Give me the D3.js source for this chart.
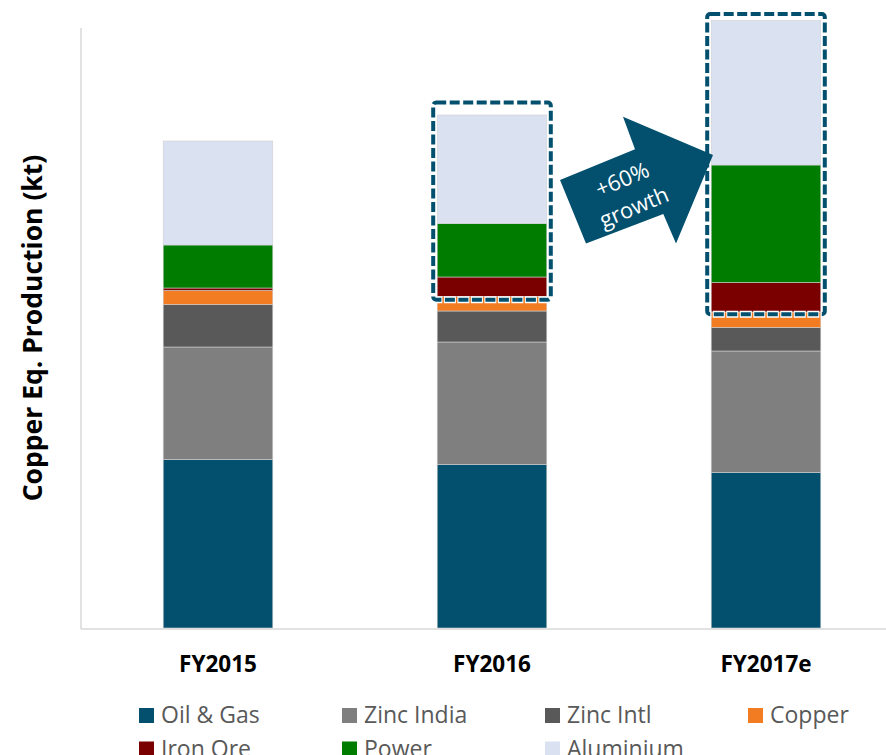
<!DOCTYPE html>
<html>
<head>
<meta charset="utf-8">
<script src="https://cdn.jsdelivr.net/npm/d3@7"></script>
<style>
  body { margin: 0; background: #fff; overflow: hidden; }
  svg { display: block; font-family: "Open Sans", sans-serif; }
</style>
</head>
<body>
<div id="main"></div>
<script>
"use strict";

// chart data (kt)
var categories = ["FY2015", "FY2016", "FY2017e"];
var seriesNames = ["Oil & Gas", "Zinc India", "Zinc Intl", "Copper", "Iron Ore", "Power", "Aluminium"];
var seriesColors = ["#02506e", "#7f7f7f", "#595959", "#f27c21", "#7a0000", "#007c00", "#dae1f1"];
var oilGas = [337, 327, 311];
var zincIndia = [225, 245, 243];
var zincIntl = [85, 62, 47];
var copper = [28, 29, 31];
var ironOre = [5, 39, 59];
var power = [86, 107, 235];
var aluminium = [208, 217, 289];
var growthLabel = ["+60%", "growth"];

var W = 886, H = 755;
var svg = d3.select("#main").append("svg").attr("width", W).attr("height", H);

var table = categories.map(function(c, i) {
  return {
    cat: c,
    "Oil & Gas": oilGas[i],
    "Zinc India": zincIndia[i],
    "Zinc Intl": zincIntl[i],
    "Copper": copper[i],
    "Iron Ore": ironOre[i],
    "Power": power[i],
    "Aluminium": aluminium[i]
  };
});

var x = d3.scaleBand().domain(categories).range([81, 903]).paddingInner(0.6).paddingOuter(0.3);
var y = d3.scaleLinear().domain([0, 1200]).range([628, 28]);
var color = d3.scaleOrdinal().domain(seriesNames).range(seriesColors);

var stacked = d3.stack().keys(seriesNames)(table);

// axis lines
svg.append("line").attr("x1", 81).attr("x2", W).attr("y1", 629).attr("y2", 629)
  .attr("stroke", "#d9d9d9").attr("stroke-width", 1.5);
svg.append("line").attr("x1", 81).attr("x2", 81).attr("y1", 28).attr("y2", 629)
  .attr("stroke", "#d9d9d9").attr("stroke-width", 1.5);

// stacked bars
svg.append("g").selectAll("g").data(stacked).enter().append("g")
  .attr("fill", function(d) { return color(d.key); })
  .selectAll("rect").data(function(d) { return d; }).enter().append("rect")
  .attr("x", function(d) { return x(d.data.cat); })
  .attr("width", x.bandwidth())
  .attr("y", function(d) { return y(d[1]); })
  .attr("height", function(d) { return y(d[0]) - y(d[1]); })
  .attr("stroke", "#d0d0d0").attr("stroke-width", 0.6);

// category labels
svg.append("g").selectAll("text").data(categories).enter().append("text")
  .attr("x", function(d) { return x(d) + x.bandwidth() / 2; })
  .attr("y", 672)
  .attr("text-anchor", "middle")
  .attr("font-size", 22.5).attr("font-weight", "bold").attr("fill", "#000")
  .text(function(d) { return d; });

// y axis title
svg.append("text")
  .attr("transform", "translate(42,328) rotate(-90)")
  .attr("text-anchor", "middle")
  .attr("font-size", 26.5).attr("font-weight", "bold").attr("fill", "#000")
  .text("Copper Eq. Production (kt)");

// dashed boxes round the growing part (iron ore + power + aluminium)
var boxes = [{ cat: "FY2016", top: 12.5, bottom: 3.3 }, { cat: "FY2017e", top: 6.4, bottom: 2.3 }];
boxes.forEach(function(b) {
  var i = categories.indexOf(b.cat);
  var low = stacked[4][i][0], high = stacked[6][i][1];
  var bx = x(b.cat) - 4, bw = x.bandwidth() + 8;
  var by = y(high) - b.top, bh = y(low) + b.bottom - by;
  [["#fff", 7, "12,1.5", 1], ["#02506e", 4, "10,3.5", 0]].forEach(function(s) {
    svg.append("rect").attr("x", bx).attr("y", by).attr("width", bw).attr("height", bh)
      .attr("rx", 3).attr("fill", "none")
      .attr("stroke", s[0]).attr("stroke-width", s[1])
      .attr("stroke-dasharray", s[2])
      .attr("stroke-dashoffset", s[3]);
  });
});

// growth arrow
svg.append("path")
  .attr("d", "M560,180 L635,149.3 L623,116.7 L713,155 L676,243.5 L663.3,214 L586,243.5 Z")
  .attr("fill", "#02506e");
var growth = svg.append("g").attr("transform", "translate(628,193) rotate(-22.8)");
growth.selectAll("text").data(growthLabel).enter().append("text")
  .attr("x", 0)
  .attr("y", function(d, i) { return (i - 0.5) * 30 + 8; })
  .attr("text-anchor", "middle")
  .attr("font-size", 22).attr("fill", "#fff")
  .text(function(d) { return d; });

// legend
var legend = svg.append("g").selectAll("g").data(seriesNames).enter().append("g")
  .attr("transform", function(d, i) {
    return "translate(" + (139 + (i % 4) * 203) + "," + (708 + Math.floor(i / 4) * 33.5) + ")";
  });
legend.append("rect").attr("width", 15).attr("height", 15)
  .attr("fill", function(d) { return color(d); });
legend.append("text").attr("x", 22).attr("y", 15)
  .attr("font-size", 23).attr("fill", "#595959")
  .text(function(d) { return d; });
</script>
</body>
</html>
